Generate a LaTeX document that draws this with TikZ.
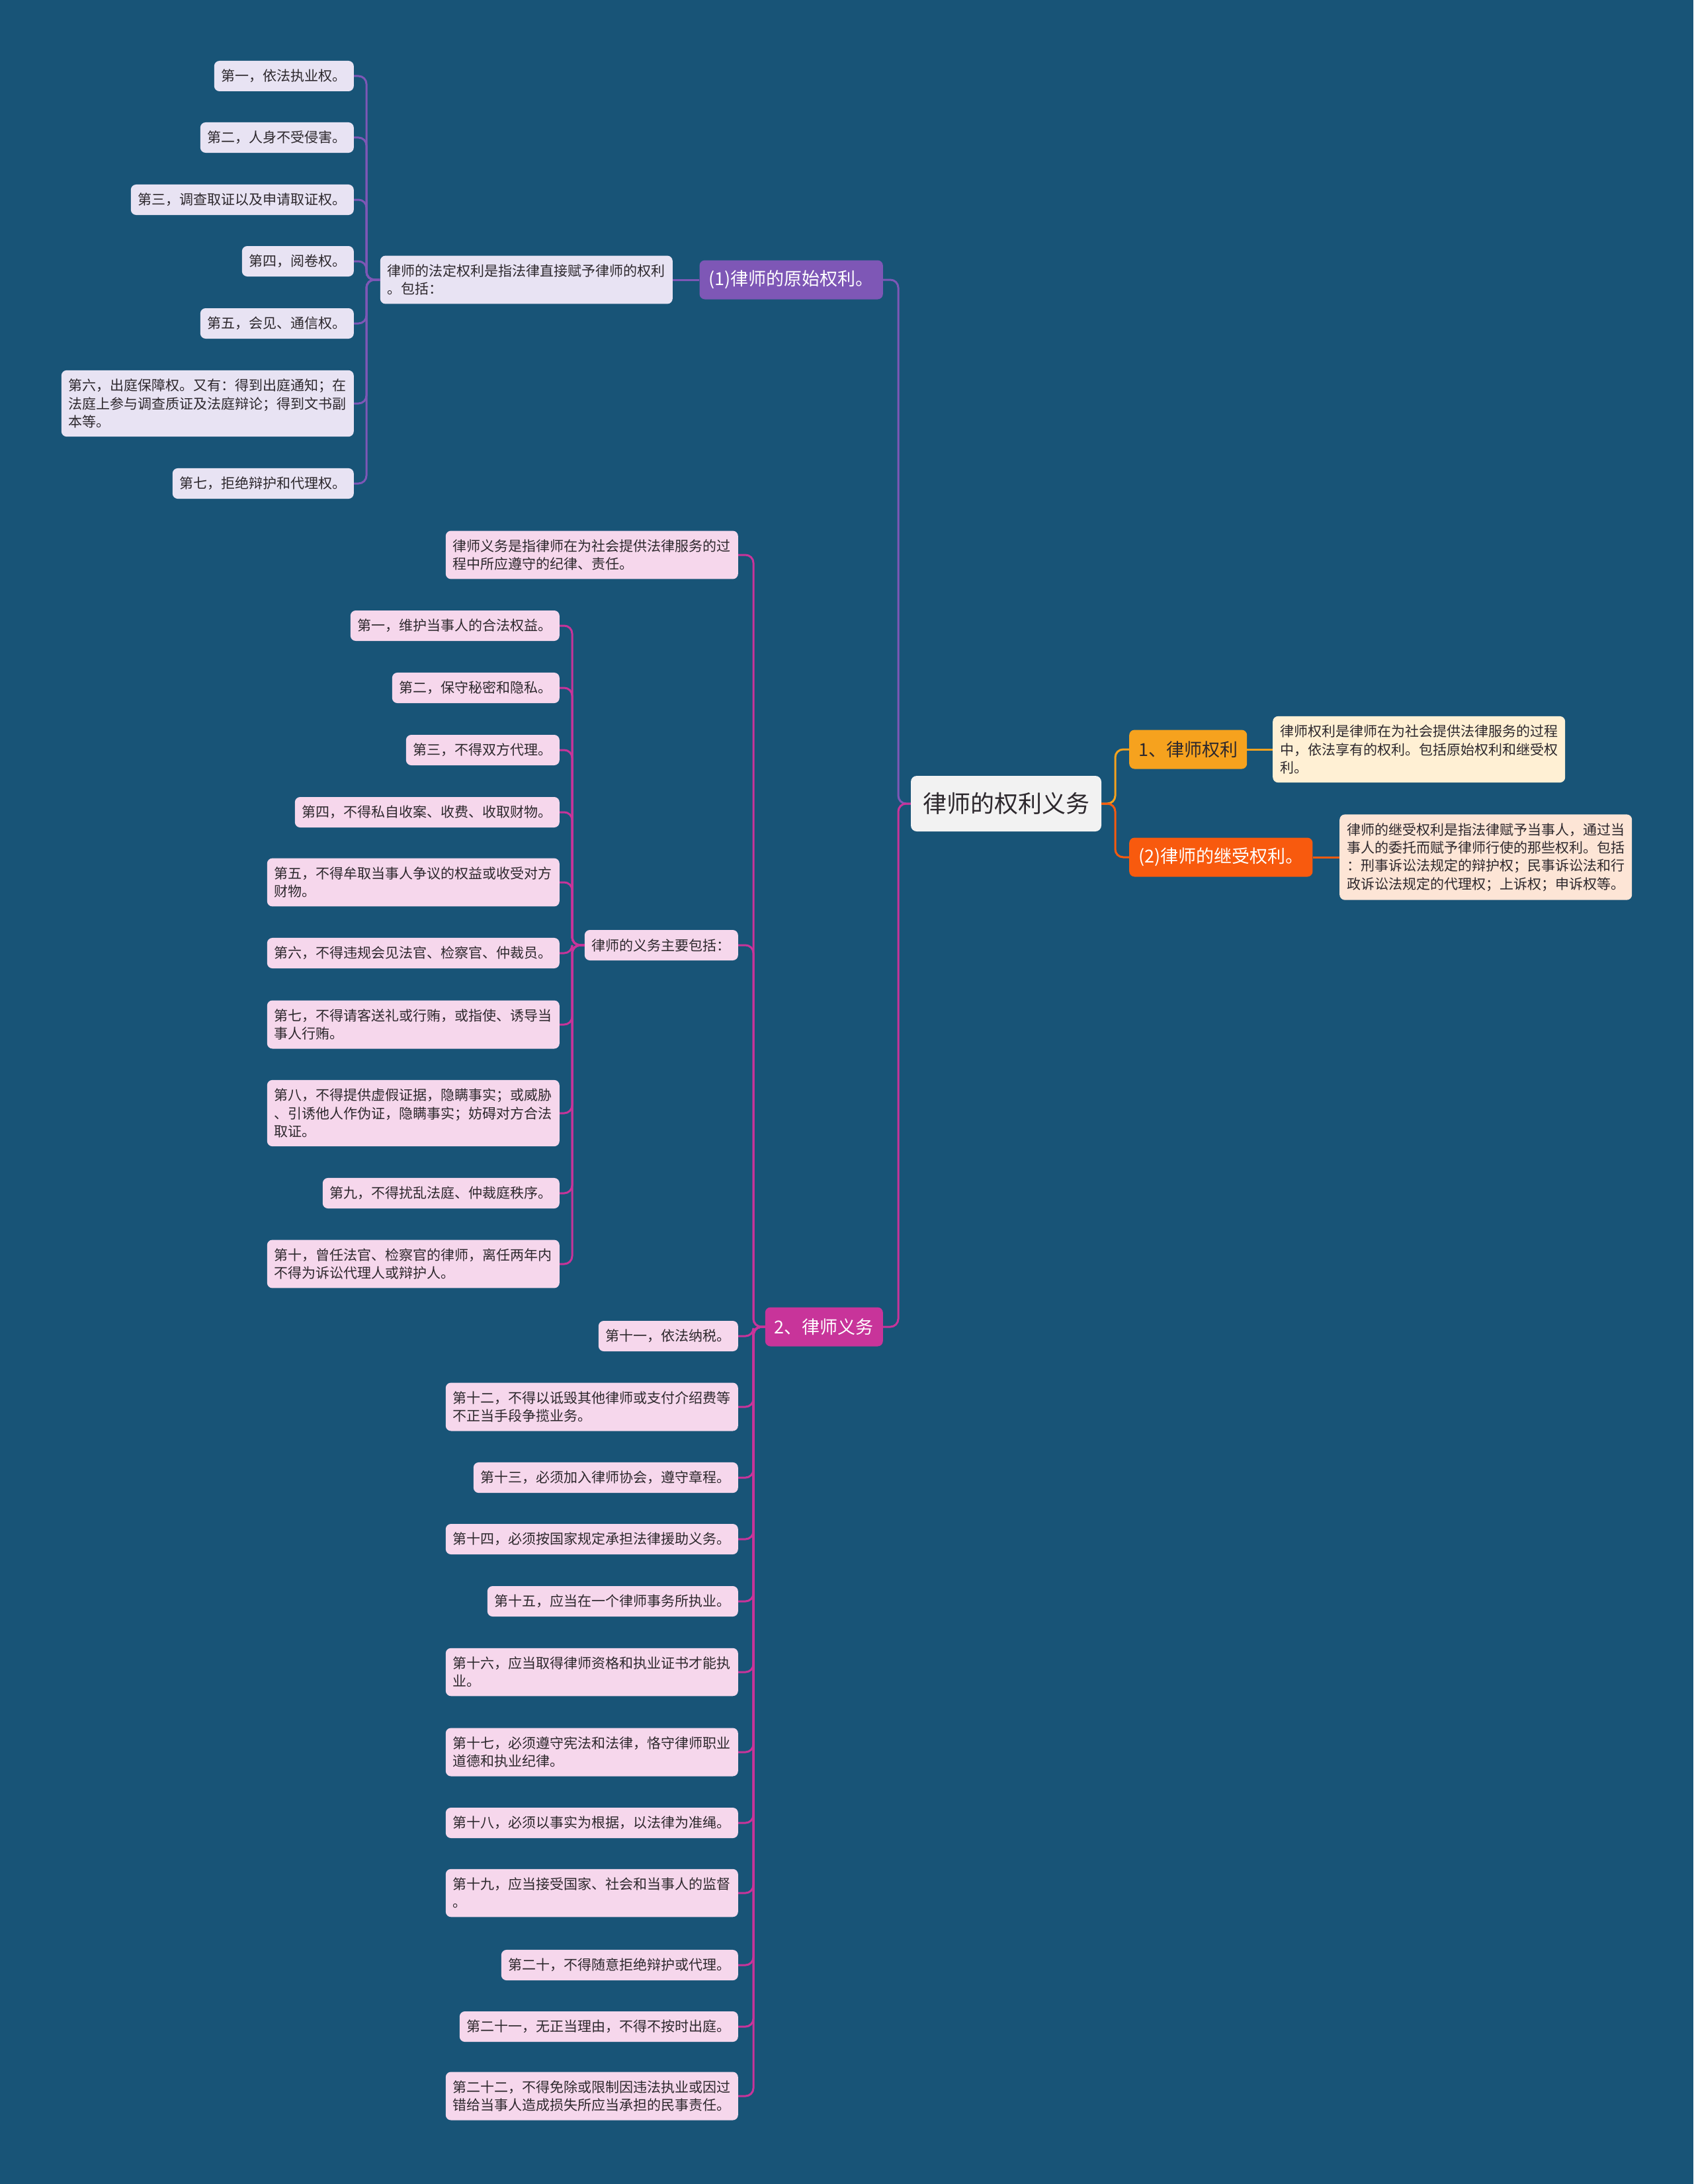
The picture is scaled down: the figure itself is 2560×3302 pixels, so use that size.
\documentclass[tikz,border=0pt]{standalone}
\usepackage{fontspec}
\setmainfont{Noto Sans CJK SC}
\usepackage{tikz}
\usetikzlibrary{positioning, calc}
\definecolor{bgblue}{RGB}{24, 84, 119}
\definecolor{rootgray}{RGB}{242, 242, 242}
\definecolor{textdark}{RGB}{45, 40, 45}
\definecolor{rightyellow}{RGB}{246, 162, 30}
\definecolor{rightcream}{RGB}{255, 240, 212}
\definecolor{rightred}{RGB}{248, 90, 14}
\definecolor{rightpeach}{RGB}{253, 229, 214}
\definecolor{origpurple}{RGB}{126, 87, 182}
\definecolor{origlav}{RGB}{232, 227, 243}
\definecolor{dutymag}{RGB}{200, 52, 154}
\definecolor{dutypink}{RGB}{246, 215, 236}

\begin{document}
\begin{tikzpicture}[x=1pt, y=-1pt,
    rootbox/.style={fill=rootgray, text=textdark, rounded corners=9pt, inner xsep=18pt,
        minimum height=84pt, font=\fontsize{36}{44}\selectfont},
    branchbox/.style={rounded corners=8pt, inner xsep=14pt, minimum height=59pt,
        font=\fontsize{27}{33}\selectfont},
    leafbox/.style={rounded corners=8pt, text=textdark, inner xsep=11pt, inner ysep=13pt,
        minimum height=46pt, align=left, font=\fontsize{21}{27.4}\selectfont},
    link/.style={line width=3pt, rounded corners=12pt}]

    % Background
    \fill[bgblue] (0, 0) rectangle (2560, 3302);
    \useasboundingbox (0, 0) rectangle (2560, 3302);

    % Spine positions
    \coordinate (trunk) at (1358, 0);
    \coordinate (rspine) at (1686, 0);
    \coordinate (origspine) at (554, 0);
    \coordinate (dutyspine) at (1139, 0);
    \coordinate (mainspine) at (865, 0);

    % Root
    \node[rootbox] (root) at (1521, 1215) {律师的权利义务};

    % Right side: rights
    \node[branchbox, fill=rightyellow, text=textdark, anchor=west] (rights) at (1707, 1133) {1、律师权利};
    \node[leafbox, fill=rightcream, anchor=west] (rightsdesc) at (1924, 1133)
        {律师权利是律师在为社会提供法律服务的过程\\中，依法享有的权利。包括原始权利和继受权\\利。};
    \node[branchbox, fill=rightred, text=white, anchor=west] (derived) at (1707, 1296) {(2)律师的继受权利。};
    \node[leafbox, fill=rightpeach, anchor=west] (deriveddesc) at (2025, 1296)
        {律师的继受权利是指法律赋予当事人，通过当\\事人的委托而赋予律师行使的那些权利。包括\\：刑事诉讼法规定的辩护权；民事诉讼法和行\\政诉讼法规定的代理权；上诉权；申诉权等。};

    % Left side: original rights
    \node[branchbox, fill=origpurple, text=white, anchor=east] (orig) at (1335, 423) {(1)律师的原始权利。};
    \node[leafbox, fill=origlav, anchor=east] (origdesc) at (1017, 423)
        {律师的法定权利是指法律直接赋予律师的权利\\。包括：};
    \node[leafbox, fill=origlav, anchor=east] (o1) at (535, 115) {第一，依法执业权。};
    \node[leafbox, fill=origlav, anchor=east] (o2) at (535, 208) {第二，人身不受侵害。};
    \node[leafbox, fill=origlav, anchor=east] (o3) at (535, 302) {第三，调查取证以及申请取证权。};
    \node[leafbox, fill=origlav, anchor=east] (o4) at (535, 395) {第四，阅卷权。};
    \node[leafbox, fill=origlav, anchor=east] (o5) at (535, 489) {第五，会见、通信权。};
    \node[leafbox, fill=origlav, anchor=east] (o6) at (535, 610)
        {第六，出庭保障权。又有：得到出庭通知；在\\法庭上参与调查质证及法庭辩论；得到文书副\\本等。};
    \node[leafbox, fill=origlav, anchor=east] (o7) at (535, 731) {第七，拒绝辩护和代理权。};

    % Left side: duties
    \node[branchbox, fill=dutymag, text=white, anchor=east] (duty) at (1335, 2006) {2、律师义务};
    \node[leafbox, fill=dutypink, anchor=east] (dutydesc) at (1116, 839)
        {律师义务是指律师在为社会提供法律服务的过\\程中所应遵守的纪律、责任。};
    \node[leafbox, fill=dutypink, anchor=east] (dutymain) at (1116, 1429) {律师的义务主要包括：};
    \node[leafbox, fill=dutypink, anchor=east] (m1) at (846, 946) {第一，维护当事人的合法权益。};
    \node[leafbox, fill=dutypink, anchor=east] (m2) at (846, 1040) {第二，保守秘密和隐私。};
    \node[leafbox, fill=dutypink, anchor=east] (m3) at (846, 1134) {第三，不得双方代理。};
    \node[leafbox, fill=dutypink, anchor=east] (m4) at (846, 1228) {第四，不得私自收案、收费、收取财物。};
    \node[leafbox, fill=dutypink, anchor=east] (m5) at (846, 1334)
        {第五，不得牟取当事人争议的权益或收受对方\\财物。};
    \node[leafbox, fill=dutypink, anchor=east] (m6) at (846, 1441) {第六，不得违规会见法官、检察官、仲裁员。};
    \node[leafbox, fill=dutypink, anchor=east] (m7) at (846, 1549)
        {第七，不得请客送礼或行贿，或指使、诱导当\\事人行贿。};
    \node[leafbox, fill=dutypink, anchor=east] (m8) at (846, 1683)
        {第八，不得提供虚假证据，隐瞒事实；或威胁\\、引诱他人作伪证，隐瞒事实；妨碍对方合法\\取证。};
    \node[leafbox, fill=dutypink, anchor=east] (m9) at (846, 1804) {第九，不得扰乱法庭、仲裁庭秩序。};
    \node[leafbox, fill=dutypink, anchor=east] (m10) at (846, 1911)
        {第十，曾任法官、检察官的律师，离任两年内\\不得为诉讼代理人或辩护人。};
    \node[leafbox, fill=dutypink, anchor=east] (d11) at (1116, 2020) {第十一，依法纳税。};
    \node[leafbox, fill=dutypink, anchor=east] (d12) at (1116, 2127)
        {第十二，不得以诋毁其他律师或支付介绍费等\\不正当手段争揽业务。};
    \node[leafbox, fill=dutypink, anchor=east] (d13) at (1116, 2234) {第十三，必须加入律师协会，遵守章程。};
    \node[leafbox, fill=dutypink, anchor=east] (d14) at (1116, 2327) {第十四，必须按国家规定承担法律援助义务。};
    \node[leafbox, fill=dutypink, anchor=east] (d15) at (1116, 2421) {第十五，应当在一个律师事务所执业。};
    \node[leafbox, fill=dutypink, anchor=east] (d16) at (1116, 2528)
        {第十六，应当取得律师资格和执业证书才能执\\业。};
    \node[leafbox, fill=dutypink, anchor=east] (d17) at (1116, 2649)
        {第十七，必须遵守宪法和法律，恪守律师职业\\道德和执业纪律。};
    \node[leafbox, fill=dutypink, anchor=east] (d18) at (1116, 2756) {第十八，必须以事实为根据，以法律为准绳。};
    \node[leafbox, fill=dutypink, anchor=east] (d19) at (1116, 2862)
        {第十九，应当接受国家、社会和当事人的监督\\。};
    \node[leafbox, fill=dutypink, anchor=east] (d20) at (1116, 2971) {第二十，不得随意拒绝辩护或代理。};
    \node[leafbox, fill=dutypink, anchor=east] (d21) at (1116, 3064) {第二十一，无正当理由，不得不按时出庭。};
    \node[leafbox, fill=dutypink, anchor=east] (d22) at (1116, 3169)
        {第二十二，不得免除或限制因违法执业或因过\\错给当事人造成损失所应当承担的民事责任。};

    % Connectors from the root
    \draw[link, origpurple] (root.west) -- (root.west -| trunk) |- (orig.east);
    \draw[link, dutymag] (root.west) -- (root.west -| trunk) |- (duty.east);
    \draw[link, rightyellow] (root.east) -- (root.east -| rspine) |- (rights.west);
    \draw[link, rightred] (root.east) -- (root.east -| rspine) |- (derived.west);
    \draw[link, rightyellow] (rights.east) -- (rightsdesc.west);
    \draw[link, rightred] (derived.east) -- (deriveddesc.west);

    % Original rights connectors
    \draw[link, origpurple] (orig.west) -- (origdesc.east);
    \foreach \n in {o1, o2, o3, o4, o5, o6, o7}
        \draw[link, origpurple] (origdesc.west) -- (origdesc.west -| origspine) |- (\n.east);

    % Duty connectors
    \foreach \n in {dutydesc, dutymain, d11, d12, d13, d14, d15, d16, d17, d18, d19, d20, d21, d22}
        \draw[link, dutymag] (duty.west) -- (duty.west -| dutyspine) |- (\n.east);
    \foreach \n in {m1, m2, m3, m4, m5, m6, m7, m8, m9, m10}
        \draw[link, dutymag] (dutymain.west) -- (dutymain.west -| mainspine) |- (\n.east);
\end{tikzpicture}
\end{document}
